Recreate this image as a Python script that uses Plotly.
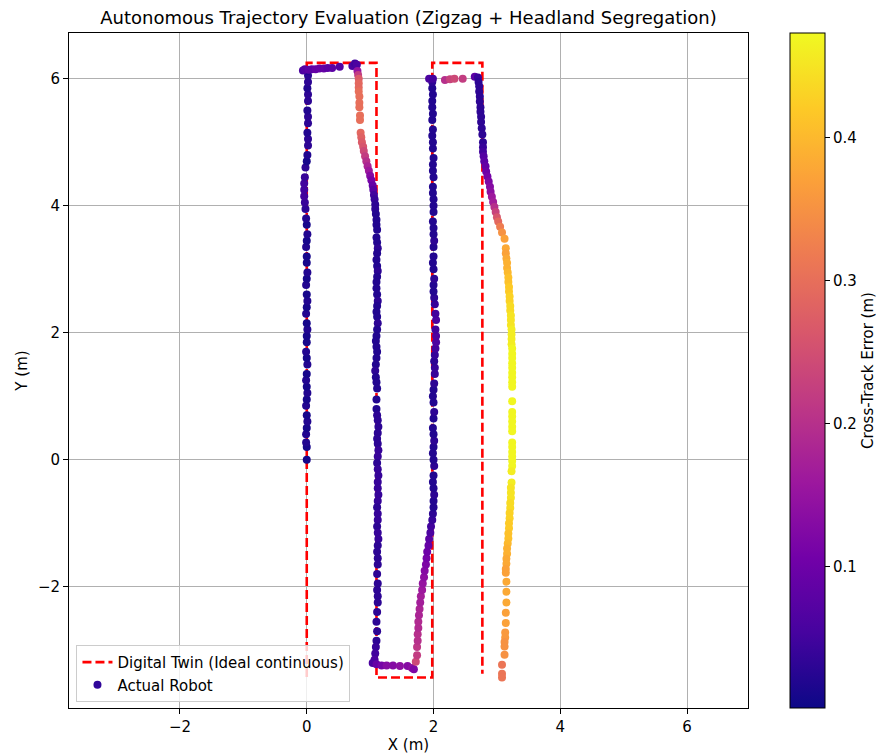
import plotly.graph_objects as go

# ---------------- Digital twin (ideal path) ----------------
twin_x = [0.0, 0.0, 1.1, 1.1, 1.98, 1.98, 2.77, 2.77]
twin_y = [-3.42, 6.25, 6.25, -3.43, -3.43, 6.25, 6.25, -3.37]

# ---------------- Actual robot, by segment ----------------
# A: lane 1 (upwards)
xA = [0.0, 0.0, -0.01, -0.01, 0.0, 0.01, 0.0, -0.01, 0.0, 0.01,
      0.0, -0.01, 0.0, 0.01, 0.0, -0.01, 0.0, 0.0, 0.01, 0.0,
      -0.01, 0.0, 0.01, 0.0, -0.01, 0.0, 0.01, 0.0, 0.0, -0.01,
      0.0, 0.01, 0.0, -0.01, -0.02, -0.03, -0.04, -0.04, -0.04, -0.03,
      -0.02, 0.0, 0.01, 0.02, 0.02, 0.01, 0.02, 0.02, 0.01, 0.02,
      0.02, 0.01, 0.02, 0.02, 0.01]
yA = [0.0, 0.2, 0.27, 0.4, 0.5, 0.6, 0.7, 0.85, 0.95, 1.05,
      1.15, 1.25, 1.35, 1.5, 1.6, 1.7, 1.85, 1.95, 2.05, 2.15,
      2.3, 2.4, 2.5, 2.6, 2.75, 2.85, 2.95, 3.1, 3.2, 3.35,
      3.45, 3.55, 3.7, 3.8, 3.95, 4.05, 4.15, 4.25, 4.35, 4.45,
      4.6, 4.7, 4.8, 4.95, 5.05, 5.15, 5.3, 5.4, 5.5, 5.65,
      5.75, 5.85, 5.95, 6.05, 6.12]
eA = [0.01, 0.01, 0.02, 0.02, 0.01, 0.02, 0.01, 0.02, 0.01, 0.02,
      0.01, 0.02, 0.01, 0.02, 0.01, 0.02, 0.01, 0.01, 0.02, 0.01,
      0.02, 0.01, 0.02, 0.01, 0.02, 0.01, 0.02, 0.01, 0.01, 0.02,
      0.01, 0.02, 0.01, 0.02, 0.03, 0.04, 0.05, 0.05, 0.05, 0.04,
      0.03, 0.01, 0.02, 0.03, 0.03, 0.02, 0.03, 0.03, 0.02, 0.03,
      0.03, 0.02, 0.03, 0.03, 0.02]

# B: first headland (top)
xB = [-0.06, -0.03, 0.03, 0.08, 0.14, 0.2, 0.27, 0.33, 0.4, 0.52, 0.72, 0.76, 0.79]
yB = [6.13, 6.15, 6.14, 6.15, 6.15, 6.16, 6.16, 6.17, 6.17, 6.19, 6.2, 6.24, 6.22]
eB = [0.06, 0.07, 0.08, 0.08, 0.09, 0.09, 0.09, 0.08, 0.08, 0.07, 0.06, 0.05, 0.06]

# C: entry to lane 2 (downwards, drifting)
xC = [0.8, 0.81, 0.82, 0.82, 0.82, 0.82, 0.83, 0.83, 0.83, 0.84,
      0.84, 0.85, 0.86, 0.87, 0.89, 0.9, 0.92, 0.94, 0.96, 0.98,
      1.0, 1.02, 1.04, 1.05, 1.06, 1.07, 1.08]
yC = [6.12, 6.06, 6.0, 5.93, 5.86, 5.8, 5.72, 5.62, 5.55, 5.42,
      5.35, 5.15, 5.08, 5.0, 4.93, 4.86, 4.78, 4.7, 4.62, 4.55,
      4.47, 4.4, 4.32, 4.25, 4.17, 4.1, 4.02]
eC = [0.15, 0.22, 0.27, 0.29, 0.29, 0.3, 0.3, 0.3, 0.3, 0.3,
      0.3, 0.29, 0.28, 0.27, 0.26, 0.24, 0.22, 0.2, 0.18, 0.16,
      0.13, 0.11, 0.09, 0.07, 0.05, 0.04, 0.03]

# D: lane 2 (downwards)
xD = [1.08, 1.09, 1.1, 1.1, 1.11, 1.1, 1.11, 1.12, 1.11, 1.1,
      1.11, 1.12, 1.11, 1.1, 1.1, 1.11, 1.12, 1.11, 1.1, 1.11,
      1.12, 1.11, 1.1, 1.09, 1.1, 1.11, 1.1, 1.09, 1.08, 1.09,
      1.1, 1.11, 1.1, 1.1, 1.11, 1.12, 1.13, 1.12, 1.11, 1.12,
      1.13, 1.12, 1.11, 1.12, 1.13, 1.12, 1.12, 1.13, 1.12, 1.11,
      1.12, 1.12, 1.11, 1.12, 1.13, 1.12, 1.11, 1.12, 1.12, 1.11,
      1.12, 1.11, 1.12, 1.12, 1.11, 1.1, 1.11, 1.1, 1.09, 1.08,
      1.07]
yD = [3.95, 3.87, 3.78, 3.7, 3.62, 3.5, 3.42, 3.33, 3.25, 3.15,
      3.05, 2.97, 2.88, 2.8, 2.7, 2.6, 2.5, 2.42, 2.33, 2.25,
      2.15, 2.05, 1.95, 1.87, 1.78, 1.7, 1.6, 1.5, 1.4, 1.3,
      1.22, 1.12, 0.95, 0.8, 0.7, 0.62, 0.52, 0.42, 0.33, 0.25,
      0.15, 0.05, -0.05, -0.15, -0.25, -0.35, -0.45, -0.55, -0.65, -0.75,
      -0.85, -0.95, -1.05, -1.15, -1.25, -1.35, -1.45, -1.55, -1.65, -1.8,
      -1.95, -2.05, -2.15, -2.25, -2.4, -2.55, -2.7, -2.85, -2.95, -3.05,
      -3.15]
eD = [0.03, 0.02, 0.02, 0.02, 0.02, 0.02, 0.02, 0.03, 0.02, 0.02,
      0.02, 0.03, 0.02, 0.02, 0.02, 0.02, 0.03, 0.02, 0.02, 0.02,
      0.03, 0.02, 0.02, 0.02, 0.02, 0.02, 0.02, 0.02, 0.03, 0.02,
      0.02, 0.02, 0.02, 0.02, 0.03, 0.03, 0.03, 0.03, 0.03, 0.03,
      0.04, 0.04, 0.03, 0.04, 0.04, 0.04, 0.04, 0.04, 0.04, 0.03,
      0.04, 0.04, 0.03, 0.04, 0.04, 0.03, 0.03, 0.03, 0.03, 0.03,
      0.03, 0.03, 0.03, 0.03, 0.03, 0.03, 0.03, 0.03, 0.04, 0.05,
      0.06]

# E: second headland (bottom)
xE = [1.04, 1.1, 1.18, 1.26, 1.36, 1.47, 1.59, 1.66, 1.69]
yE = [-3.2, -3.22, -3.24, -3.24, -3.24, -3.25, -3.25, -3.28, -3.3]
eE = [0.06, 0.09, 0.11, 0.13, 0.13, 0.14, 0.13, 0.14, 0.12]

# F: entry to lane 3 (upwards, drifting)
xF = [1.72, 1.74, 1.74, 1.75, 1.75, 1.76, 1.76, 1.77, 1.78, 1.79,
      1.8, 1.82, 1.83, 1.85, 1.86, 1.88, 1.89, 1.9, 1.92, 1.93,
      1.95, 1.96, 1.98]
yF = [-3.18, -3.08, -2.95, -2.85, -2.75, -2.65, -2.55, -2.45, -2.35, -2.25,
      -2.15, -2.05, -1.95, -1.85, -1.75, -1.65, -1.55, -1.45, -1.35, -1.25,
      -1.15, -1.05, -0.95]
eF = [0.24, 0.22, 0.21, 0.2, 0.2, 0.19, 0.19, 0.18, 0.18, 0.17,
      0.17, 0.16, 0.15, 0.14, 0.13, 0.12, 0.11, 0.1, 0.09, 0.08,
      0.06, 0.05, 0.04]

# G: lane 3 (upwards)
xG = [1.99, 2.0, 2.0, 2.01, 2.0, 1.99, 2.0, 2.01, 2.0, 1.99,
      2.0, 2.01, 2.0, 1.99, 2.0, 2.01, 2.0, 1.99, 2.0, 2.01,
      2.02, 2.02, 2.01, 2.02, 2.03, 2.04, 2.04, 2.03, 2.04, 2.03,
      2.02, 2.01, 2.0, 2.0, 2.01, 2.0, 1.99, 2.0, 2.0, 2.01,
      2.0, 2.0, 1.99, 2.0, 2.0, 2.0, 1.99, 1.99, 2.0, 1.99,
      1.99, 2.0, 1.99, 1.99, 1.98, 1.99, 1.98, 1.99, 1.98, 1.98,
      1.99, 1.98, 1.98]
yG = [-0.85, -0.75, -0.65, -0.55, -0.45, -0.35, -0.25, -0.1, 0.0, 0.1,
      0.2, 0.3, 0.4, 0.5, 0.65, 0.75, 0.9, 1.0, 1.1, 1.2,
      1.35, 1.45, 1.55, 1.65, 1.75, 1.85, 1.95, 2.05, 2.2, 2.3,
      2.45, 2.55, 2.65, 2.75, 2.85, 3.0, 3.1, 3.2, 3.35, 3.45,
      3.55, 3.65, 3.75, 3.9, 4.0, 4.1, 4.2, 4.3, 4.45, 4.55,
      4.65, 4.75, 4.9, 5.0, 5.1, 5.2, 5.35, 5.45, 5.55, 5.65,
      5.75, 5.85, 5.95]
eG = [0.03, 0.02, 0.02, 0.03, 0.02, 0.02, 0.02, 0.03, 0.02, 0.02,
      0.02, 0.03, 0.02, 0.02, 0.02, 0.03, 0.02, 0.02, 0.02, 0.03,
      0.04, 0.04, 0.03, 0.04, 0.05, 0.06, 0.06, 0.05, 0.06, 0.05,
      0.04, 0.03, 0.02, 0.02, 0.03, 0.02, 0.02, 0.02, 0.02, 0.03,
      0.02, 0.02, 0.02, 0.02, 0.02, 0.02, 0.02, 0.02, 0.02, 0.02,
      0.02, 0.02, 0.02, 0.02, 0.02, 0.02, 0.02, 0.02, 0.02, 0.02,
      0.02, 0.02, 0.03]

# H: third headland (top)
xH = [1.93, 1.99, 2.18, 2.26, 2.33, 2.46, 2.65]
yH = [6.0, 6.0, 5.98, 5.99, 6.0, 6.0, 6.03]
eH = [0.06, 0.05, 0.2, 0.23, 0.24, 0.22, 0.08]

# I: entry to lane 4 (downwards, drifting)
xI = [2.7, 2.71, 2.72, 2.72, 2.73, 2.73, 2.74, 2.74, 2.75, 2.75,
      2.76, 2.77, 2.78, 2.78, 2.78, 2.79, 2.8, 2.82, 2.83, 2.85,
      2.87, 2.89, 2.9, 2.92, 2.94, 2.96, 2.98, 3.0, 3.02, 3.05,
      3.08, 3.12, 3.14]
yI = [6.02, 5.95, 5.88, 5.8, 5.72, 5.64, 5.55, 5.48, 5.4, 5.32,
      5.22, 5.12, 5.0, 4.92, 4.85, 4.78, 4.7, 4.62, 4.54, 4.46,
      4.38, 4.3, 4.22, 4.14, 4.06, 3.98, 3.9, 3.82, 3.75, 3.67,
      3.58, 3.48, 3.33]
eI = [0.04, 0.03, 0.03, 0.03, 0.03, 0.03, 0.03, 0.03, 0.03, 0.03,
      0.03, 0.03, 0.03, 0.04, 0.05, 0.07, 0.08, 0.09, 0.1, 0.11,
      0.12, 0.13, 0.14, 0.16, 0.17, 0.2, 0.23, 0.26, 0.29, 0.32,
      0.35, 0.37, 0.38]

# J: lane 4 (downwards, offset)
xJ = [3.14, 3.15, 3.16, 3.16, 3.17, 3.18, 3.18, 3.19, 3.19, 3.2,
      3.2, 3.21, 3.21, 3.22, 3.22, 3.22, 3.23, 3.23, 3.23, 3.23,
      3.24, 3.24, 3.24, 3.24, 3.24, 3.24, 3.24, 3.24, 3.24, 3.24,
      3.24, 3.24, 3.24, 3.24, 3.24, 3.24, 3.24, 3.24, 3.24, 3.24,
      3.24, 3.23, 3.23, 3.22, 3.22, 3.22, 3.21, 3.21, 3.2, 3.2,
      3.19, 3.19, 3.18, 3.18, 3.17, 3.16, 3.16, 3.15, 3.15, 3.14,
      3.14, 3.15, 3.15, 3.15, 3.14, 3.14, 3.13, 3.13, 3.12, 3.12,
      3.12, 3.08, 3.08, 3.08]
yJ = [3.25, 3.17, 3.1, 3.02, 2.95, 2.87, 2.8, 2.72, 2.65, 2.57,
      2.5, 2.42, 2.35, 2.27, 2.2, 2.12, 2.05, 1.97, 1.9, 1.82,
      1.75, 1.67, 1.6, 1.52, 1.45, 1.37, 1.3, 1.22, 1.15, 0.92,
      0.75, 0.68, 0.6, 0.52, 0.45, 0.27, 0.2, 0.12, 0.05, -0.02,
      -0.1, -0.18, -0.36, -0.44, -0.52, -0.6, -0.68, -0.76, -0.84, -0.92,
      -1.0, -1.08, -1.16, -1.24, -1.32, -1.4, -1.48, -1.56, -1.64, -1.72,
      -1.78, -1.92, -2.08, -2.25, -2.41, -2.57, -2.72, -2.8, -2.87, -2.94,
      -3.07, -3.23, -3.37, -3.43]
eJ = [0.37, 0.38, 0.39, 0.39, 0.4, 0.41, 0.41, 0.42, 0.42, 0.43,
      0.43, 0.44, 0.44, 0.45, 0.45, 0.45, 0.46, 0.46, 0.46, 0.46,
      0.47, 0.47, 0.47, 0.47, 0.47, 0.47, 0.47, 0.47, 0.47, 0.47,
      0.47, 0.47, 0.47, 0.47, 0.47, 0.47, 0.47, 0.47, 0.47, 0.47,
      0.47, 0.46, 0.46, 0.45, 0.45, 0.45, 0.44, 0.44, 0.43, 0.43,
      0.42, 0.42, 0.41, 0.41, 0.4, 0.39, 0.39, 0.38, 0.38, 0.37,
      0.37, 0.38, 0.38, 0.38, 0.37, 0.37, 0.36, 0.36, 0.35, 0.35,
      0.35, 0.31, 0.31, 0.31]

robot_x = xA + xB + xC + xD + xE + xF + xG + xH + xI + xJ
robot_y = yA + yB + yC + yD + yE + yF + yG + yH + yI + yJ
robot_err = eA + eB + eC + eD + eE + eF + eG + eH + eI + eJ

cbar_ticks = [0.1, 0.2, 0.3, 0.4]
axis_ticks = [-2, 0, 2, 4, 6]

FONT = "DejaVu Sans"
FS = 15

fig = go.Figure()

fig.add_trace(go.Scatter(
    x=twin_x, y=twin_y, mode="lines",
    name="Digital Twin (Ideal continuous)",
    line=dict(color="red", width=2.6, dash="9px,4px"),
    hoverinfo="skip",
))

fig.add_trace(go.Scatter(
    x=robot_x, y=robot_y, mode="markers",
    name="Actual Robot", showlegend=False,
    marker=dict(
        size=8, color=robot_err, colorscale="Plasma",
        cmin=0.001, cmax=0.473, line=dict(width=0),
        colorbar=dict(
            title=dict(text="Cross-Track Error (m)", side="right",
                       font=dict(family=FONT, size=FS, color="black")),
            tickvals=cbar_ticks, ticks="outside", ticklen=5,
            tickcolor="black", tickfont=dict(family=FONT, size=FS, color="black"),
            thickness=35, len=1.0, lenmode="fraction",
            x=1.062, xanchor="left", y=0.5, yanchor="middle",
            xpad=0, ypad=0, outlinewidth=1, outlinecolor="black",
        ),
    ),
))

# legend entry for the robot points
fig.add_trace(go.Scatter(
    x=[None], y=[None], mode="markers", name="Actual Robot",
    marker=dict(size=8, color="#30069a"),
))

axis_common = dict(
    showgrid=True, gridcolor="#b0b0b0", gridwidth=1,
    zeroline=False, showline=True, linecolor="black", linewidth=1,
    mirror=True, ticks="outside", ticklen=5, tickcolor="black",
    tickfont=dict(family=FONT, size=FS, color="black"),
    tickvals=axis_ticks, automargin=False,
)

fig.update_layout(
    width=877, height=755,
    margin=dict(l=69, r=129, t=33, b=47, autoexpand=False),
    paper_bgcolor="white", plot_bgcolor="white",
    font=dict(family=FONT, size=FS, color="black"),
    title=dict(text="Autonomous Trajectory Evaluation (Zigzag + Headland Segregation)",
               x=0.4658, xanchor="center", y=0.976, yanchor="middle",
               font=dict(family=FONT, size=18, color="black")),
    xaxis=dict(range=[-3.75, 6.96], title=dict(text="X (m)", standoff=4,
               font=dict(family=FONT, size=FS)), **axis_common),
    yaxis=dict(range=[-3.91, 6.72], title=dict(text="Y (m)", standoff=6,
               font=dict(family=FONT, size=FS)), **axis_common),
    legend=dict(x=0.011, y=0.009, xanchor="left", yanchor="bottom",
                bgcolor="rgba(255,255,255,0.8)", bordercolor="#cccccc",
                borderwidth=1, font=dict(family=FONT, size=FS, color="black")),
    showlegend=True,
)

fig.write_html("out.html",
               config={"displayModeBar": False},
               post_script="document.body.style.margin='0';"
                           "document.body.style.overflow='hidden';")
